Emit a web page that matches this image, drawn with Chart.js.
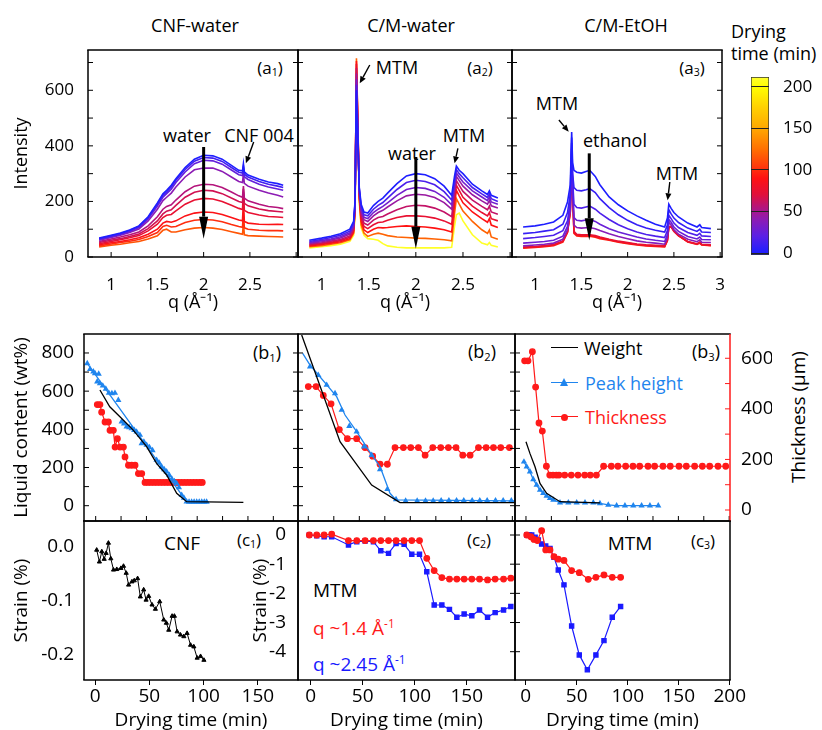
<!DOCTYPE html>
<html>
<head>
<meta charset="utf-8">
<script src="https://cdn.jsdelivr.net/npm/chart.js@4.4.1/dist/chart.umd.min.js"></script>
<style>
body { margin: 0; background: #fff; }
#fig { position: relative; width: 822px; height: 730px; font-family: 'Open Sans', sans-serif; color: #000; overflow: hidden; }
#fig canvas { position: absolute; }
.t { position: absolute; white-space: nowrap; line-height: 1; transform: translate(-50%, -50%); font-size: 18px; }
.l { position: absolute; white-space: nowrap; line-height: 1; transform: translateY(-50%); font-size: 18px; }
sub { font-size: 0.62em; vertical-align: -0.2em; }
sup { font-size: 0.62em; vertical-align: 0.55em; }
.mk { position: absolute; }
</style>
</head>
<body>
<div id="fig">
  <div class="t" style="left:195px;top:25px">CNF-water</div>
  <div class="t" style="left:411px;top:25px">C/M-water</div>
  <div class="t" style="left:626px;top:25px">C/M-EtOH</div>
  <div class="l" style="left:731px;top:31px">Drying</div>
  <div class="l" style="left:731px;top:53px">time (min)</div>

  <div class="t" style="left:270px;top:68px;font-size:17px">(a<sub>1</sub>)</div>
  <div class="t" style="left:480px;top:68px;font-size:17px">(a<sub>2</sub>)</div>
  <div class="t" style="left:692px;top:68px;font-size:17px">(a<sub>3</sub>)</div>
  <div class="t" style="left:187px;top:135px">water</div>
  <div class="t" style="left:259px;top:135px">CNF 004</div>
  <div class="t" style="left:397px;top:67px">MTM</div>
  <div class="t" style="left:412px;top:153px">water</div>
  <div class="t" style="left:464px;top:135px">MTM</div>
  <div class="t" style="left:557px;top:103px">MTM</div>
  <div class="t" style="left:615px;top:140px">ethanol</div>
  <div class="t" style="left:677px;top:173px">MTM</div>

  <div class="t" style="left:267px;top:353px">(b<sub>1</sub>)</div>
  <div class="t" style="left:482px;top:352px">(b<sub>2</sub>)</div>
  <div class="t" style="left:706px;top:352px">(b<sub>3</sub>)</div>

  <div class="mk" style="left:551px;top:347px;width:27px;border-top:1.5px solid #000"></div>
  <div class="l" style="left:584px;top:348px">Weight</div>
  <div class="mk" style="left:551px;top:382px;width:27px;border-top:1.5px solid #1f85ee"></div>
  <div class="mk" style="left:560px;top:378px;width:0;height:0;border-left:4.5px solid transparent;border-right:4.5px solid transparent;border-bottom:8px solid #1f85ee"></div>
  <div class="l" style="left:585px;top:383px;color:#1f85ee">Peak height</div>
  <div class="mk" style="left:551px;top:416px;width:27px;border-top:1.5px solid #ff1a1a"></div>
  <div class="mk" style="left:561px;top:413.5px;width:7px;height:7px;border-radius:50%;background:#ff1a1a"></div>
  <div class="l" style="left:585px;top:417px;color:#ff1a1a">Thickness</div>
  <div class="t" style="left:798px;top:417px;font-size:19px;transform:translate(-50%,-50%) rotate(-90deg)">Thickness (μm)</div>

  <div class="t" style="left:182px;top:543px;font-size:19px">CNF</div>
  <div class="t" style="left:249px;top:540px;font-size:17px">(c<sub>1</sub>)</div>
  <div class="t" style="left:479px;top:540px;font-size:17px">(c<sub>2</sub>)</div>
  <div class="t" style="left:703px;top:541px;font-size:17px">(c<sub>3</sub>)</div>
  <div class="l" style="left:313px;top:590px;font-size:19px">MTM</div>
  <div class="l" style="left:313px;top:628px;font-size:19px;color:#ff1a1a">q ~1.4 Å<sup>-1</sup></div>
  <div class="l" style="left:313px;top:664px;font-size:19px;color:#1a1aff">q ~2.45 Å<sup>-1</sup></div>
  <div class="t" style="left:630px;top:543px;font-size:19px">MTM</div>
</div>
<script>
// ---------- data: XRD spectra (a) ----------
const qA1 = [0.87, 1.0, 1.1, 1.2, 1.3, 1.4, 1.5, 1.56, 1.6, 1.65, 1.7, 1.8, 1.9, 2.0, 2.1, 2.2, 2.3, 2.38, 2.42, 2.43, 2.44, 2.48, 2.6, 2.7, 2.8, 2.86];
const a1Times = [0, 12, 24, 40, 55, 65, 75, 88, 100, 115];
const a1Intensity = [
  [68, 78, 86, 97, 112, 145, 195, 228, 240, 258, 282, 322, 352, 366, 364, 352, 330, 312, 310, 336, 306, 295, 280, 270, 264, 258],
  [66, 76, 84, 95, 110, 142, 190, 222, 234, 252, 276, 315, 345, 358, 356, 344, 322, 305, 302, 326, 298, 288, 272, 262, 255, 250],
  [63, 73, 81, 92, 106, 137, 183, 215, 228, 244, 268, 306, 336, 348, 346, 334, 313, 296, 293, 318, 289, 279, 262, 252, 245, 240],
  [60, 70, 78, 88, 101, 130, 172, 203, 215, 230, 252, 288, 314, 320, 320, 308, 288, 272, 268, 300, 265, 255, 240, 230, 222, 216],
  [56, 65, 72, 80, 90, 112, 145, 172, 182, 188, 205, 235, 255, 262, 260, 250, 234, 220, 215, 255, 212, 202, 190, 182, 178, 174],
  [52, 60, 66, 74, 83, 102, 130, 155, 165, 170, 186, 215, 233, 240, 238, 228, 212, 200, 196, 245, 193, 184, 173, 167, 164, 162],
  [48, 56, 62, 69, 77, 94, 118, 142, 150, 153, 166, 190, 205, 211, 209, 200, 186, 175, 171, 235, 168, 160, 151, 146, 144, 142],
  [44, 51, 56, 62, 69, 82, 100, 122, 128, 125, 130, 148, 158, 162, 160, 153, 142, 133, 130, 200, 128, 122, 118, 117, 118, 117],
  [40, 47, 52, 57, 63, 74, 88, 110, 114, 108, 110, 124, 132, 135, 133, 127, 117, 110, 107, 160, 105, 100, 96, 95, 95, 94],
  [36, 42, 46, 51, 56, 65, 76, 96, 100, 90, 90, 98, 104, 106, 104, 99, 91, 85, 82, 125, 80, 77, 75, 74, 73, 72]
];

const qA2 = [0.87, 1.0, 1.1, 1.2, 1.3, 1.34, 1.355, 1.37, 1.385, 1.40, 1.42, 1.45, 1.49, 1.55, 1.6, 1.65, 1.7, 1.8, 1.9, 2.0, 2.1, 2.2, 2.3, 2.38, 2.41, 2.43, 2.46, 2.5, 2.6, 2.7, 2.76, 2.78, 2.8, 2.87];
const a2Times = [0, 15, 30, 45, 60, 75, 90, 120, 210];
const a2Intensity = [
  [60, 68, 75, 84, 100, 128, 200, 600, 420, 250, 190, 162, 158, 185, 200, 212, 230, 264, 292, 300, 296, 282, 255, 222, 290, 327, 312, 300, 262, 238, 225, 238, 222, 212],
  [56, 63, 70, 78, 93, 120, 195, 620, 430, 245, 180, 152, 148, 172, 186, 196, 212, 243, 268, 276, 272, 260, 235, 205, 275, 315, 300, 285, 250, 227, 214, 227, 210, 200],
  [52, 59, 65, 73, 87, 114, 190, 640, 440, 240, 170, 143, 138, 160, 172, 182, 195, 222, 243, 250, 247, 236, 215, 188, 260, 302, 288, 270, 238, 216, 203, 216, 198, 190],
  [49, 55, 61, 68, 82, 108, 185, 660, 450, 235, 162, 134, 128, 148, 160, 168, 180, 202, 220, 226, 223, 214, 196, 172, 245, 290, 275, 255, 224, 202, 190, 203, 184, 176],
  [46, 51, 57, 63, 76, 102, 180, 680, 460, 228, 150, 122, 115, 133, 142, 146, 155, 170, 182, 186, 184, 176, 162, 145, 228, 275, 258, 236, 205, 182, 170, 183, 162, 154],
  [43, 48, 53, 59, 71, 96, 175, 695, 470, 222, 140, 110, 102, 116, 124, 126, 132, 142, 148, 148, 146, 140, 130, 118, 210, 258, 240, 215, 183, 160, 148, 160, 138, 130],
  [40, 45, 50, 55, 66, 90, 170, 705, 480, 215, 128, 98, 88, 100, 106, 105, 106, 110, 112, 110, 108, 104, 98, 90, 188, 240, 220, 195, 162, 138, 125, 138, 115, 106],
  [37, 41, 46, 51, 62, 85, 165, 715, 490, 208, 116, 86, 74, 82, 86, 82, 77, 72, 70, 68, 67, 65, 62, 58, 155, 210, 190, 165, 128, 98, 85, 97, 72, 64],
  [33, 37, 41, 46, 56, 78, 150, 553, 450, 195, 105, 78, 66, 64, 60, 48, 40, 35, 33, 33, 33, 33, 33, 35, 110, 152, 158, 130, 80, 50, 44, 52, 42, 36]
];

const qA3 = [0.87, 1.0, 1.1, 1.2, 1.3, 1.35, 1.38, 1.395, 1.405, 1.42, 1.45, 1.5, 1.55, 1.59, 1.65, 1.7, 1.8, 1.9, 2.0, 2.1, 2.2, 2.3, 2.4, 2.43, 2.445, 2.47, 2.5, 2.55, 2.65, 2.75, 2.78, 2.8, 2.9];
const a3Times = [0, 8, 16, 26, 38, 75, 85, 95];
const a3Intensity = [
  [108, 112, 118, 126, 150, 198, 260, 450, 340, 312, 305, 302, 308, 312, 290, 260, 216, 188, 166, 148, 132, 118, 108, 140, 190, 175, 160, 144, 122, 108, 116, 106, 102],
  [84, 88, 93, 98, 118, 160, 225, 430, 300, 250, 240, 238, 242, 246, 232, 210, 178, 152, 132, 116, 104, 96, 90, 115, 170, 155, 140, 124, 104, 92, 100, 90, 88],
  [66, 70, 74, 78, 95, 130, 200, 410, 280, 190, 178, 176, 180, 183, 172, 158, 135, 116, 102, 90, 81, 75, 70, 95, 150, 138, 122, 106, 88, 78, 85, 76, 74],
  [50, 53, 56, 60, 75, 110, 180, 390, 260, 142, 132, 130, 133, 135, 128, 118, 102, 90, 81, 72, 65, 60, 56, 80, 135, 125, 108, 92, 74, 65, 72, 63, 62],
  [40, 43, 46, 50, 64, 98, 170, 370, 250, 115, 106, 104, 105, 106, 102, 95, 84, 74, 66, 58, 53, 50, 46, 70, 125, 115, 98, 82, 64, 55, 62, 53, 52],
  [36, 38, 41, 45, 58, 92, 165, 355, 240, 92, 82, 80, 80, 80, 77, 72, 64, 57, 52, 47, 44, 42, 40, 62, 110, 108, 92, 76, 56, 48, 54, 46, 44],
  [34, 36, 39, 43, 56, 90, 162, 352, 238, 88, 79, 77, 77, 78, 74, 69, 62, 55, 50, 45, 42, 40, 38, 60, 108, 110, 94, 77, 55, 46, 52, 44, 42],
  [32, 34, 37, 41, 54, 88, 160, 351, 236, 85, 76, 74, 74, 75, 71, 66, 60, 53, 48, 43, 40, 38, 36, 58, 104, 110, 96, 78, 54, 45, 50, 43, 41]
];

// ---------- data: liquid content / thickness (b) ----------
const b1WeightT = [4.2, 13.9, 23.9, 37, 50.2, 60, 69.9, 79.8, 89.6, 145.5];
const b1WeightWt = [606, 518, 466, 396, 309, 222, 161, 65, 21, 17];
const b1PeakLineT = [-8.3, 0, 20, 40, 60, 80, 89.6, 109.3];
const b1PeakLineWt = [745, 684, 536, 388, 240, 92, 22, 20];
const b1PeakT = [-8.3, -5.5, -2.3, -0.7, 1.5, 3, 4.2, 7, 10, 13, 16, 19, 22.3, 25.6, 28, 30.5, 33, 35.4, 38, 40.3, 43.6, 45.3, 47.5, 50.2, 53, 56, 60, 62.5, 65, 67.5, 69.9, 72.5, 75, 77.5, 79.8, 82, 84.7, 87, 89.6, 92, 94.5, 97, 99.5, 102, 104.5, 107, 109.3];
const b1PeakWt = [745, 715, 702, 693, 650, 690, 640, 628, 612, 590, 588, 590, 553, 440, 430, 414, 410, 405, 396, 387, 370, 326, 335, 318, 305, 290, 239, 225, 204, 190, 178, 160, 140, 128, 117, 95, 56, 40, 21, 20, 20, 20, 20, 20, 20, 20, 20];
const b1ThickT = [1.6, 4.2, 5.9, 9.2, 12.5, 14.1, 17.4, 19.1, 21.4, 24.0, 27.3, 28.9, 32.3, 35.5, 38.8, 42.1, 45.4, 48.6, 51.5, 54.5, 57.5, 60.5, 63.5, 66.5, 69.5, 72.5, 75.5, 78.5, 81.5, 84.5, 87.5, 90.5, 93.5, 96.5, 99.5, 102.5, 105];
const b1ThickUm = [417, 417, 387, 348, 348, 315, 315, 249, 282, 249, 249, 210, 177, 177, 177, 144, 144, 109, 109, 109, 109, 109, 109, 109, 109, 109, 109, 109, 109, 109, 109, 109, 109, 109, 109, 109, 109];

const b2WeightT = [-6.5, 31.1, 62.1, 89.9, 202];
const b2WeightWt = [894, 335, 108, 16, 16];
const b2PeakLineT = [-5.5, 1.7, 27.8, 36, 47.4, 62.1, 70.3, 80.1, 86, 202];
const b2PeakLineWt = [798, 737, 571, 475, 388, 266, 205, 65, 30, 25];
const b2PeakT = [1.7, 9.8, 18, 26.2, 32.7, 40.2, 47.4, 54.6, 62.1, 70.3, 77.5, 86, 95.4, 106.7, 114.9, 122.4, 130.2, 137.8, 145.3, 152.4, 160.6, 168.1, 175.3, 183.5, 191, 199];
const b2PeakWt = [728, 684, 632, 588, 501, 417, 387, 309, 265, 190, 86, 33, 25, 25, 25, 25, 27, 27, 27, 27, 27, 27, 27, 27, 27, 27];
const b2ThickT = [0, 7.6, 14.7, 22.3, 30.4, 38.3, 47.4, 55.6, 63.1, 70.3, 77.5, 85, 93.2, 100.4, 107.9, 114.5, 122, 129.8, 137.3, 144.8, 151.4, 158.6, 166.8, 174.3, 181.5, 188.6, 197.1];
const b2ThickUm = [488, 488, 453, 420, 318, 282, 282, 247, 213, 181, 181, 247, 247, 247, 247, 217, 247, 247, 247, 247, 217, 217, 247, 247, 247, 247, 247];

const b3WeightT = [0, 3.9, 8.9, 13.8, 20.3, 33.5, 72.8];
const b3WeightWt = [335, 274, 204, 117, 65, 21, 15];
const b3PeakT = [-2, 0.7, 3.9, 7.2, 10.5, 13.8, 17, 20.3, 23.6, 26.9, 33.5, 41.7, 49.9, 58.1, 66.3, 72.8, 81, 89.2, 97.4, 105.6, 113.8, 122, 130.2];
const b3PeakWt = [230, 204, 178, 138, 108, 82, 65, 51, 39, 30, 16, 16, 16, 16, 16, 12, 4, 0, 0, 0, 0, 0, 0];
const b3ThickT = [-1.3, 2, 6.3, 9.5, 12.8, 16.1, 20.1, 23.4, 26.6, 29.9, 32.5, 38.1, 44.6, 51.2, 57.8, 63.3, 69.3, 76.4, 84, 90.5, 98.1, 105.3, 111.9, 120.1, 126.6, 134.8, 142, 150.6, 157.8, 166, 173.6, 180.8, 189, 196.6];
const b3ThickUm = [590, 590, 626, 486, 344, 312, 173, 138, 138, 138, 138, 138, 138, 138, 138, 138, 138, 173, 173, 173, 173, 173, 173, 173, 173, 173, 173, 173, 173, 173, 173, 173, 173, 173];

// ---------- data: strain (c) ----------
const c1T = [1.5, 4.0, 6.2, 8.4, 10.2, 12.3, 14.5, 17, 20, 23.8, 26.2, 28.7, 30.9, 34, 36.1, 39.2, 41.7, 44.8, 47, 49.4, 52.5, 55.6, 59.6, 63.3, 65.7, 67.9, 71, 73.1, 75.6, 78.7, 81.8, 84.8, 88, 91, 94.1, 97.2, 100.3];
const c1Strain = [-0.006, -0.028, -0.009, -0.023, -0.012, 0.007, -0.022, -0.043, -0.042, -0.040, -0.036, -0.049, -0.071, -0.065, -0.063, -0.059, -0.093, -0.080, -0.099, -0.092, -0.108, -0.116, -0.102, -0.136, -0.142, -0.155, -0.129, -0.129, -0.158, -0.164, -0.167, -0.161, -0.183, -0.186, -0.207, -0.204, -0.211];
const c2T = [-1.3, 5.8, 12.9, 20.2, 36.3, 44.3, 52.3, 60.3, 67.4, 74.8, 82.1, 89.8, 97.2, 104.6, 111.6, 118.7, 126.1, 133.4, 140.5, 147.5, 154.9, 162.3, 170, 177.3, 185.4, 192.4];
const c2Strain14 = [0, 0, 0, 0.03, -0.19, -0.19, -0.19, -0.19, -0.19, -0.19, -0.19, -0.19, -0.19, -0.19, -0.80, -1.22, -1.46, -1.51, -1.51, -1.51, -1.51, -1.51, -1.54, -1.51, -1.51, -1.48];
const c2Strain245 = [0, -0.03, -0.06, -0.06, -0.34, -0.23, -0.21, -0.23, -0.54, -0.63, -0.29, -0.32, -0.66, -0.66, -1.26, -2.40, -2.40, -2.55, -2.82, -2.71, -2.77, -2.57, -2.82, -2.66, -2.57, -2.45];
const c3T14 = [1, 5, 8.1, 11.4, 15.6, 19.6, 23.8, 27.7, 31.9, 37.5, 45, 52.5, 61.3, 68.8, 76.7, 84.8, 93];
const c3Strain14 = [0, -0.06, -0.15, -0.19, 0.15, -0.51, -0.51, -0.74, -0.83, -0.87, -1.22, -1.29, -1.52, -1.45, -1.37, -1.45, -1.45];
const c3T245 = [1, 3.6, 5.9, 9.2, 12.4, 15.6, 19.6, 23.8, 27.7, 31.9, 37.5, 45, 52.5, 60.4, 68.8, 76.7, 84.8, 93];
const c3Strain245 = [0, 0, 0, -0.08, -0.17, -0.31, -0.38, -0.46, -0.76, -1.20, -1.71, -3.12, -4.11, -4.62, -4.11, -3.62, -2.82, -2.45];

// colour bar (drying time, min)
const cbRange = [-2.4, 211.7];
const cmapTimes = [0, 20, 40, 55, 70, 90, 105, 125, 150, 175, 200, 212];
const cmapColors = ['#1e1eff', '#5a20e6', '#8c1cb4', '#b4147c', '#e0103c', '#ff1212', '#ff3c0c', '#ff7000', '#ffa800', '#ffd000', '#ffff00', '#ffff30'];

const BLUE = '#1f85ee', RED = '#ff1a1a', DBLUE = '#1a1aff';

function hexRgb(h) { return [1, 3, 5].map(i => parseInt(h.substr(i, 2), 16)); }
function colorAt(t) {
  let i = 0;
  while (i < cmapTimes.length - 2 && t > cmapTimes[i + 1]) i++;
  const f = Math.min(1, Math.max(0, (t - cmapTimes[i]) / (cmapTimes[i + 1] - cmapTimes[i])));
  const a = hexRgb(cmapColors[i]), b = hexRgb(cmapColors[i + 1]);
  return 'rgb(' + a.map((v, k) => Math.round(v + (b[k] - v) * f)).join(',') + ')';
}
const pts = (xs, ys) => xs.map((x, i) => ({ x: x, y: ys[i] }));

Chart.defaults.font.family = "'Open Sans', sans-serif";
Chart.defaults.color = '#000';

// frame, inward ticks and arrows, placed through the chart's own scales
const framePlugin = {
  id: 'frame',
  afterDatasetsDraw(chart, args, o) {
    if (!o || !o.box) return;
    const { ctx, chartArea: a } = chart;
    ctx.save();
    (o.ticks || []).forEach(sp => {
      const sc = chart.scales[sp.axis];
      const len = sp.len || 5;
      ctx.strokeStyle = sp.color || '#000';
      ctx.lineWidth = 1;
      sc.ticks.forEach(tk => {
        const p = sc.getPixelForValue(tk.value);
        ctx.beginPath();
        if (sp.side === 'left') { ctx.moveTo(a.left, p); ctx.lineTo(a.left + len, p); }
        else if (sp.side === 'right') { ctx.moveTo(a.right, p); ctx.lineTo(a.right - len, p); }
        else if (sp.side === 'bottom') { ctx.moveTo(p, a.bottom); ctx.lineTo(p, a.bottom - len); }
        else { ctx.moveTo(p, a.top); ctx.lineTo(p, a.top + len); }
        ctx.stroke();
      });
    });
    const xs = chart.scales.x, ys = chart.scales.y;
    (o.arrows || []).forEach(ar => {
      const x1 = xs.getPixelForValue(ar.from[0]), y1 = ys.getPixelForValue(ar.from[1]);
      const x2 = xs.getPixelForValue(ar.to[0]), y2 = ys.getPixelForValue(ar.to[1]);
      const d = Math.hypot(x2 - x1, y2 - y1), ux = (x2 - x1) / d, uy = (y2 - y1) / d;
      const bx = x2 - ux * ar.hl, by = y2 - uy * ar.hl;
      ctx.strokeStyle = '#000'; ctx.fillStyle = '#000'; ctx.lineWidth = ar.lw;
      ctx.beginPath(); ctx.moveTo(x1, y1); ctx.lineTo(bx, by); ctx.stroke();
      ctx.beginPath(); ctx.moveTo(x2, y2);
      ctx.lineTo(bx - uy * ar.hw / 2, by + ux * ar.hw / 2);
      ctx.lineTo(bx + uy * ar.hw / 2, by - ux * ar.hw / 2);
      ctx.closePath(); ctx.fill();
    });
    ctx.lineWidth = 1.5;
    const cols = o.colors || {};
    [['top', a.left - 0.75, a.top, a.right + 0.75, a.top], ['bottom', a.left - 0.75, a.bottom, a.right + 0.75, a.bottom],
     ['left', a.left, a.top, a.left, a.bottom], ['right', a.right, a.top, a.right, a.bottom]].forEach(s => {
      ctx.strokeStyle = cols[s[0]] || '#000';
      ctx.beginPath(); ctx.moveTo(s[1], s[2]); ctx.lineTo(s[3], s[4]); ctx.stroke();
    });
    ctx.restore();
  }
};
Chart.register(framePlugin);

const fig = document.getElementById('fig');

// stop the scales from padding the chart area for half-labels
function noPad(s) { s.paddingTop = 0; s.paddingBottom = 0; s.paddingLeft = 0; s.paddingRight = 0; }

function axis(o) {
  return {
    type: 'linear', position: o.pos, min: o.min, max: o.max, display: o.display !== false,
    grid: o.outTicks ? { display: true, drawOnChartArea: false, drawTicks: true, tickLength: 5, color: '#000', lineWidth: 1 } : { display: false },
    border: { display: false },
    ticks: { stepSize: o.step, includeBounds: false, autoSkip: false, maxRotation: 0, display: !!o.labels,
             padding: o.pad || 0, font: { size: o.fs || 17 }, color: '#000', callback: o.cb || (v => v) },
    title: o.title ? { display: true, text: o.title, font: { size: o.tfs || 18 }, color: '#000', padding: { top: 4, bottom: 4 } } : { display: false }
  };
}

function panel(box, pad, scales, datasets, frame) {
  const w = box.R - box.L + pad.l + pad.r, h = box.B - box.T + pad.t + pad.b;
  const cv = document.createElement('canvas');
  cv.width = w; cv.height = h;
  cv.style.left = (box.L - pad.l) + 'px'; cv.style.top = (box.T - pad.t) + 'px';
  cv.style.width = w + 'px'; cv.style.height = h + 'px';
  fig.appendChild(cv);
  scales.x.afterFit = s => { s.height = pad.b; noPad(s); };
  scales.y.afterFit = s => { s.width = pad.l; noPad(s); };
  const rightShown = scales.y2 && scales.y2.display;
  if (scales.y2) scales.y2.afterFit = s => { if (rightShown) s.width = pad.r; noPad(s); };
  frame.box = true;
  return new Chart(cv, {
    type: 'scatter',
    data: { datasets: datasets },
    options: {
      responsive: false, animation: false, devicePixelRatio: 1,
      layout: { autoPadding: false, padding: { top: pad.t, right: rightShown ? 0 : pad.r, left: 0, bottom: 0 } },
      plugins: { legend: { display: false }, tooltip: { enabled: false }, frame: frame },
      scales: scales
    }
  });
}

const every200 = v => (Math.abs(v % 200) < 1e-6 ? v : '');
const no3 = v => (v === 3 ? '' : v);
const spectra = (q, rows, times) => rows.map((r, i) => ({
  data: pts(q, r), showLine: true, borderColor: colorAt(times[i]), borderWidth: 1.6, pointRadius: 0
}));
const thin = { lw: 1.4, hl: 7, hw: 6 }, thick = { lw: 3, hl: 22, hw: 9 };

// ---------- row a ----------
const aY = (labels) => axis({ min: 0, max: 745, step: 100, labels: labels, cb: every200, pad: 6, title: labels ? 'Intensity' : null });
const aX = (cb) => axis({ min: 0.75, max: 3.02, step: 0.5, labels: true, cb: cb, pad: 10, title: 'q (Å⁻¹)' });
const aTicks = [{ axis: 'y', side: 'left' }, { axis: 'y', side: 'right' }, { axis: 'x', side: 'bottom' }];

panel({ L: 88, T: 50, R: 298, B: 257 }, { l: 81, t: 4, r: 2, b: 61 },
  { x: aX(no3), y: aY(true) }, spectra(qA1, a1Intensity, a1Times),
  { ticks: aTicks, arrows: [
    Object.assign({ from: [2.0, 396], to: [2.0, 66] }, thick),
    Object.assign({ from: [2.541, 414], to: [2.457, 337] }, thin)] });

panel({ L: 298, T: 50, R: 512, B: 257 }, { l: 2, t: 4, r: 2, b: 61 },
  { x: aX(no3), y: aY(false) }, spectra(qA2, a2Intensity, a2Times),
  { ticks: aTicks, arrows: [
    Object.assign({ from: [1.511, 691], to: [1.405, 625] }, thin),
    Object.assign({ from: [2.0, 360], to: [2.0, 30] }, thick),
    Object.assign({ from: [2.446, 391], to: [2.411, 337] }, thin)] });

panel({ L: 512, T: 50, R: 722, B: 257 }, { l: 2, t: 4, r: 6, b: 61 },
  { x: aX(null), y: aY(false) }, spectra(qA3, a3Intensity, a3Times),
  { ticks: aTicks, arrows: [
    Object.assign({ from: [1.257, 493], to: [1.363, 451] }, thin),
    Object.assign({ from: [1.585, 373], to: [1.585, 60] }, thick),
    Object.assign({ from: [2.456, 270], to: [2.432, 204] }, thin)] });

// ---------- row b ----------
function bSets(wT, wV, lT, lV, pT, pV, tT, tV) {
  return [
    { data: pts(wT, wV), showLine: true, borderColor: '#000', borderWidth: 1.3, pointRadius: 0, yAxisID: 'y' },
    { data: pts(lT, lV), showLine: true, borderColor: BLUE, borderWidth: 1.3, pointRadius: 0, yAxisID: 'y' },
    { data: pts(pT, pV), showLine: false, pointStyle: 'triangle', pointRadius: 3.6, backgroundColor: BLUE, borderColor: BLUE, borderWidth: 0, yAxisID: 'y' },
    { data: pts(tT, tV), showLine: true, borderColor: RED, borderWidth: 1.2, pointStyle: 'circle', pointRadius: 2.8, backgroundColor: RED, yAxisID: 'y2' }
  ];
}
const bY = (labels) => axis({ min: -80.2, max: 899.4, step: 100, labels: labels, cb: every200, pad: 2, fs: 19, title: labels ? 'Liquid content (wt%)' : null, tfs: 19 });
const bY2 = (shown) => axis({ pos: 'right', display: shown, min: -43.5, max: 696, step: 100, labels: shown, cb: v => (v >= 0 && Math.abs(v % 200) < 1e-6 ? v : ''), pad: 3, fs: 19 });
const bX = (mn, mx) => axis({ min: mn, max: mx, step: 25, labels: false });
const bTicks = [{ axis: 'y', side: 'left' }, { axis: 'y', side: 'right' }, { axis: 'x', side: 'bottom' }];

panel({ L: 84, T: 334, R: 298, B: 521 }, { l: 78, t: 4, r: 2, b: 2 },
  { x: bX(-11.5, 199.3), y: bY(true), y2: bY2(false) },
  bSets(b1WeightT, b1WeightWt, b1PeakLineT, b1PeakLineWt, b1PeakT, b1PeakWt, b1ThickT, b1ThickUm),
  { ticks: bTicks });

panel({ L: 298, T: 334, R: 515, B: 521 }, { l: 2, t: 4, r: 2, b: 2 },
  { x: bX(-10.1, 202.6), y: bY(false), y2: bY2(false) },
  bSets(b2WeightT, b2WeightWt, b2PeakLineT, b2PeakLineWt, b2PeakT, b2PeakWt, b2ThickT, b2ThickUm),
  { ticks: bTicks });

panel({ L: 515, T: 334, R: 730, B: 521 }, { l: 2, t: 4, r: 42, b: 2 },
  { x: bX(-10.8, 200.8), y: bY(false), y2: bY2(true) },
  bSets(b3WeightT, b3WeightWt, b3PeakT, b3PeakWt, b3PeakT, b3PeakWt, b3ThickT, b3ThickUm),
  { ticks: [{ axis: 'y', side: 'left' }, { axis: 'y2', side: 'right', color: RED }, { axis: 'x', side: 'bottom' }],
    colors: { right: RED } });

// ---------- row c ----------
const cX = (mn, mx) => axis({ min: mn, max: mx, step: 50, labels: true, outTicks: true, pad: 0, fs: 19, title: 'Drying time (min)', tfs: 19 });
const cY = (labels) => axis({ min: -4.97, max: 0.48, step: 1, labels: labels, pad: 4, fs: 19, title: labels ? 'Strain (%)' : null, tfs: 19 });
const redC = (xs, ys) => ({ data: pts(xs, ys), showLine: true, borderColor: RED, borderWidth: 1.2, pointStyle: 'circle', pointRadius: 2.8, backgroundColor: RED });
const blueS = (xs, ys) => ({ data: pts(xs, ys), showLine: true, borderColor: DBLUE, borderWidth: 1.2, pointStyle: 'rect', pointRadius: 3, backgroundColor: DBLUE });

panel({ L: 84, T: 521, R: 298, B: 680 }, { l: 78, t: 2, r: 2, b: 56 },
  { x: cX(-10.2, 187),
    y: axis({ min: -0.248, max: 0.048, step: 0.1, labels: true, pad: 2, fs: 19, title: 'Strain (%)', tfs: 19,
              cb: v => (Math.abs(v) < 1e-9 ? '0.0' : v.toFixed(1)) }) },
  [{ data: pts(c1T, c1Strain), showLine: true, borderColor: '#000', borderWidth: 1, pointStyle: 'triangle', pointRadius: 2.4, backgroundColor: '#000' }],
  { ticks: [] });

panel({ L: 298, T: 521, R: 515, B: 680 }, { l: 53, t: 2, r: 2, b: 56 },
  { x: cX(-12.2, 196.4), y: cY(true) },
  [redC(c2T, c2Strain14), blueS(c2T, c2Strain245)],
  { ticks: [{ axis: 'y', side: 'right' }] });

panel({ L: 515, T: 521, R: 730, B: 680 }, { l: 2, t: 2, r: 22, b: 56 },
  { x: cX(-10.5, 200.2), y: cY(false) },
  [redC(c3T14, c3Strain14), blueS(c3T245, c3Strain245)],
  { ticks: [{ axis: 'y', side: 'left' }] });

// ---------- colour bar ----------
(function () {
  const box = { L: 751, T: 77, R: 769, B: 255 }, pad = { l: 2, t: 12, r: 55, b: 14 };
  const w = box.R - box.L + pad.l + pad.r, h = box.B - box.T + pad.t + pad.b;
  const cv = document.createElement('canvas');
  cv.width = w; cv.height = h;
  cv.style.left = (box.L - pad.l) + 'px'; cv.style.top = (box.T - pad.t) + 'px';
  cv.style.width = w + 'px'; cv.style.height = h + 'px';
  fig.appendChild(cv);
  new Chart(cv, {
    type: 'bar',
    data: { labels: [''], datasets: [{
      data: [cbRange],
      backgroundColor: c => {
        const ch = c.chart; if (!ch.chartArea) return '#888';
        const ys = ch.scales.y;
        const g = ch.ctx.createLinearGradient(0, ys.getPixelForValue(cbRange[0]), 0, ys.getPixelForValue(cbRange[1]));
        cmapTimes.forEach((t, i) => g.addColorStop(Math.min(1, Math.max(0, (t - cbRange[0]) / (cbRange[1] - cbRange[0]))), cmapColors[i]));
        return g;
      },
      borderColor: '#333', borderWidth: 1, borderSkipped: false, categoryPercentage: 1, barPercentage: 1
    }] },
    options: {
      responsive: false, animation: false, devicePixelRatio: 1,
      layout: { autoPadding: false, padding: { top: pad.t, left: pad.l, bottom: pad.b, right: 0 } },
      plugins: { legend: { display: false }, tooltip: { enabled: false } },
      scales: {
        x: { display: false, afterFit: noPad },
        y: { position: 'right', min: cbRange[0], max: cbRange[1], afterFit: s => { s.width = pad.r; noPad(s); },
             border: { display: false },
             grid: { display: true, drawOnChartArea: true, drawTicks: false, color: '#222', lineWidth: 1, z: 1 },
             ticks: { stepSize: 50, includeBounds: false, padding: 14, font: { size: 17 }, color: '#000' } }
      }
    }
  });
})();
</script>
</body>
</html>
